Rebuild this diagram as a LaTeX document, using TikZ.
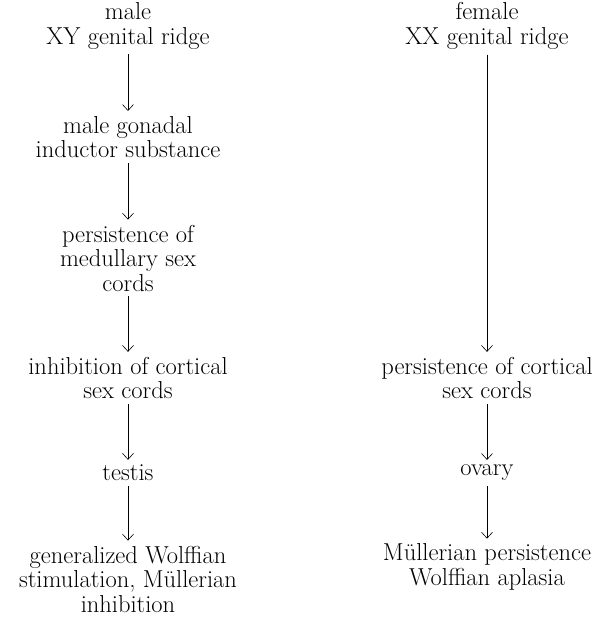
\documentclass[tikz,border=0pt]{standalone}
\usepackage{fontspec}
\usetikzlibrary{arrows.meta}
\tikzset{
  stage/.style={align=center, inner sep=5pt, font=\fontsize{24.5}{24.5}\selectfont},
  flow/.style={-{Straight Barb[length=6pt,width=11pt]}, line width=0.6pt}
}
\begin{document}
\begin{tikzpicture}[x=1pt, y=-1pt]
		\useasboundingbox (0,0) rectangle (597,618);
		%Colonne de gauche : XY
		\node[stage] (XYridge) at (128,26) {male\\XY genital ridge};
		\node[stage] (inductor) at (128,137) {male gonadal\\inductor substance};
		\node[stage] (medullary) at (128,258) {persistence of\\medullary sex\\cords};
		\node[stage] (inhib) at (128,378) {inhibition of cortical\\sex cords};
		\node[stage] (testis) at (128,473) {testis};
		\node[stage] (wolff) at (128,579) {generalized Wolffian\\stimulation, Müllerian\\inhibition};
		%Colonne de droite : XX
		\node[stage] (XXridge) at (487,26) {female\\XX genital ridge};
		\node[stage] (cortical) at (487,378) {persistence of cortical\\sex cords};
		\node[stage] (ovary) at (487,473) {ovary};
		\node[stage] (muller) at (487,567) {Müllerian persistence\\Wolffian aplasia};
		%Flèches
		\draw[flow] (XYridge) -- (inductor);
		\draw[flow] (inductor) -- (medullary);
		\draw[flow] (medullary) -- (inhib);
		\draw[flow] (inhib) -- (testis);
		\draw[flow] (testis) -- (wolff);
		
		\draw[flow] (XXridge) -- (cortical);
		\draw[flow] (cortical) -- (ovary);
		\draw[flow] (ovary) -- (muller);
	\end{tikzpicture}
\end{document}
